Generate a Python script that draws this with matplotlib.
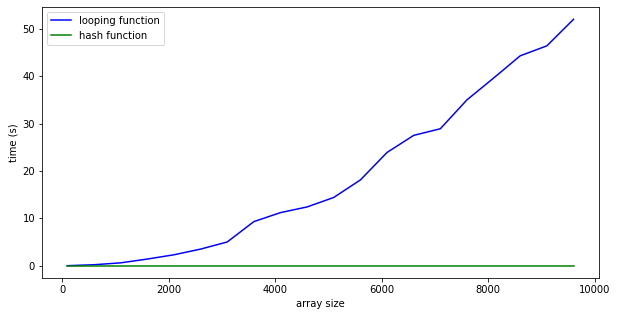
import matplotlib
matplotlib.use('Agg')
import matplotlib.pyplot as plt

# tamanhos dos arrays e tempos medidos
array_sizes = [100, 600, 1100, 1600, 2100, 2600, 3100, 3600, 4100, 4600,
               5100, 5600, 6100, 6600, 7100, 7600, 8100, 8600, 9100, 9600]
looping_times = [0.0, 0.2, 0.6, 1.4, 2.3, 3.5, 5.0, 9.3, 11.2, 12.4,
                 14.4, 18.1, 23.9, 27.5, 28.9, 35.0, 39.6, 44.3, 46.4, 52.0]
hash_times = [0.0, 0.0, 0.0, 0.0, 0.0, 0.0, 0.0, 0.0, 0.0, 0.0,
              0.0, 0.0, 0.0, 0.0, 0.0, 0.0, 0.0, 0.0, 0.0, 0.0]

fig = plt.figure(figsize=(618/72, 317/72), dpi=72)
ax = fig.add_axes([0.068, 0.123, 0.901, 0.855])

ax.plot(array_sizes, looping_times, color='blue', label='looping function')
ax.plot(array_sizes, hash_times, color='green', label='hash function')

ax.set_xlabel('array size')
ax.set_ylabel('time (s)')
ax.legend(loc='upper left')

fig.savefig('out.png', dpi=72)
